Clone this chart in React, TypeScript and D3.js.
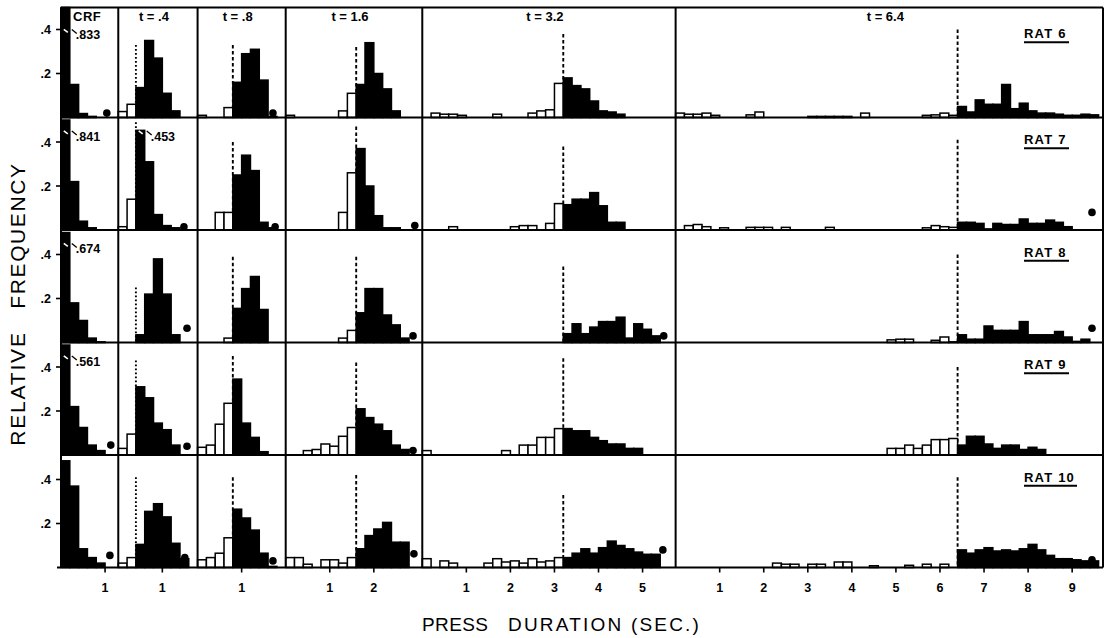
import React from 'react';
import * as d3 from 'd3';

const columnTitles = ['CRF', 't = .4', 't = .8', 't = 1.6', 't = 3.2', 't = 6.4'];
const thresholds = [0, 0.4, 0.8, 1.6, 3.2, 6.4];
const columnSpans = [1.3, 1.8, 2.0, 3.1, 5.75, 9.7];
const tickValues = [[1], [1], [1], [1, 2], [1, 2, 3, 4, 5], [1, 2, 3, 4, 5, 6, 7, 8, 9]];
const ratNames = ['RAT 6', 'RAT 7', 'RAT 8', 'RAT 9', 'RAT 10'];
const yTicks = [0.2, 0.4];
const binWidth = 0.2;

const rat6 = [
  [0.833, 0.15, 0.018, 0.005],
  [0.027, 0.06, 0.136, 0.35, 0.27, 0.11, 0.03],
  [0.01, 0, 0, 0.045, 0.16, 0.29, 0.31, 0.17, 0.005],
  [0.01, 0, 0, 0, 0, 0, 0.03, 0.11, 0.15, 0.34, 0.2, 0.13, 0.03],
  [0, 0.02, 0.015, 0.015, 0.01, 0, 0, 0, 0.015, 0, 0, 0, 0.02, 0.03, 0.035, 0.155, 0.18, 0.145, 0.13, 0.075, 0.03, 0.025, 0.015],
  [0.02, 0.015, 0.015, 0.02, 0.01, 0, 0, 0, 0.012, 0.025, 0, 0, 0, 0, 0, 0.005, 0.005, 0.005, 0.005, 0.005, 0, 0.02, 0, 0, 0, 0, 0, 0, 0.01, 0.012, 0.02, 0.01, 0.05, 0.025, 0.08, 0.06, 0.06, 0.15, 0.04, 0.065, 0.03, 0.02, 0.02, 0.015, 0.01, 0.01, 0.015, 0.012],
];
const rat7 = [
  [0.841, 0.22, 0.04, 0.01],
  [0.015, 0.14, 0.453, 0.31, 0.07, 0.02, 0.01],
  [0, 0, 0.08, 0.08, 0.25, 0.34, 0.27, 0.035, 0.01],
  [0, 0, 0, 0, 0, 0, 0.08, 0.26, 0.37, 0.2, 0.065, 0.01, 0.01],
  [0, 0, 0, 0.015, 0, 0, 0, 0, 0, 0, 0.015, 0.02, 0.02, 0, 0.03, 0.12, 0.115, 0.14, 0.14, 0.17, 0.11, 0.035, 0.035],
  [0, 0.02, 0.025, 0.015, 0, 0.01, 0, 0, 0.012, 0.012, 0.012, 0, 0.012, 0, 0, 0, 0, 0.012, 0, 0, 0, 0, 0, 0, 0, 0, 0, 0, 0.01, 0.02, 0.015, 0.012, 0.035, 0.035, 0.03, 0.005, 0.03, 0.025, 0.025, 0.05, 0.03, 0.03, 0.045, 0.035, 0.015],
];
const rat8 = [
  [0.674, 0.18, 0.1, 0.02, 0.003],
  [0, 0, 0.035, 0.22, 0.38, 0.22, 0.035],
  [0, 0, 0, 0.02, 0.155, 0.245, 0.3, 0.15],
  [0, 0, 0, 0, 0, 0, 0.02, 0.055, 0.135, 0.245, 0.245, 0.125, 0.08, 0.02],
  [0, 0, 0, 0, 0, 0, 0, 0, 0, 0, 0, 0, 0, 0, 0, 0, 0.04, 0.085, 0.04, 0.07, 0.095, 0.095, 0.115, 0.02, 0.085, 0.06, 0.03],
  [0, 0, 0, 0, 0, 0, 0, 0, 0, 0, 0, 0, 0, 0, 0, 0, 0, 0, 0, 0, 0, 0, 0, 0, 0.012, 0.015, 0.015, 0, 0, 0.01, 0.025, 0.003, 0.035, 0.015, 0.015, 0.075, 0.055, 0.055, 0.055, 0.095, 0.035, 0.035, 0.035, 0.05, 0.025, 0.005, 0.015],
];
const rat9 = [
  [0.561, 0.22, 0.125, 0.045, 0.02],
  [0.03, 0.095, 0.31, 0.26, 0.145, 0.115, 0.045],
  [0.035, 0.045, 0.14, 0.235, 0.345, 0.145, 0.08, 0.015],
  [0, 0, 0.02, 0.025, 0.05, 0.04, 0.085, 0.125, 0.21, 0.17, 0.14, 0.11, 0.045, 0.025],
  [0.02, 0, 0, 0, 0, 0, 0, 0, 0, 0.02, 0, 0.045, 0.045, 0.08, 0.08, 0.12, 0.12, 0.11, 0.11, 0.08, 0.065, 0.05, 0.05, 0.03, 0.03],
  [0, 0, 0, 0, 0, 0, 0, 0, 0, 0, 0, 0, 0, 0, 0, 0, 0, 0, 0, 0, 0, 0, 0, 0, 0.03, 0.03, 0.045, 0.03, 0.045, 0.07, 0.07, 0.075, 0.045, 0.085, 0.085, 0.05, 0.03, 0.045, 0.045, 0.025, 0.035, 0.025],
];
const rat10 = [
  [0.485, 0.37, 0.085, 0.045, 0.02],
  [0.02, 0.045, 0.105, 0.255, 0.29, 0.23, 0.11, 0.04],
  [0.035, 0.045, 0.065, 0.135, 0.265, 0.225, 0.17, 0.065, 0.005],
  [0.045, 0.045, 0.015, 0, 0.035, 0.035, 0.02, 0.045, 0.085, 0.145, 0.175, 0.205, 0.115, 0.115],
  [0.04, 0, 0.03, 0.02, 0, 0, 0, 0.02, 0.04, 0.025, 0.03, 0.02, 0.04, 0.025, 0.03, 0.045, 0.045, 0.065, 0.085, 0.065, 0.09, 0.12, 0.1, 0.085, 0.07, 0.06, 0.06],
  [0, 0, 0, 0, 0, 0, 0, 0, 0, 0, 0, 0.02, 0.015, 0.015, 0, 0.015, 0.015, 0, 0.025, 0.025, 0, 0, 0.008, 0, 0, 0, 0.01, 0, 0.015, 0, 0.015, 0, 0.08, 0.065, 0.08, 0.09, 0.075, 0.08, 0.075, 0.085, 0.105, 0.08, 0.055, 0.04, 0.04, 0.035, 0.03, 0.03],
];
const rats = [rat6, rat7, rat8, rat9, rat10];

// beyond-range proportion markers: [seconds, relative frequency]
const dots6 = [[1.04, 0.02], null, [1.71, 0.02], null, null, null];
const dots7 = [null, [1.49, 0.015], [1.76, 0.015], [2.93, 0.02], null, [9.45, 0.08]];
const dots8 = [null, [1.56, 0.065], null, [2.89, 0.03], [5.48, 0.03], [9.45, 0.065]];
const dots9 = [[1.13, 0.045], [1.56, 0.04], null, [2.89, 0.02], null, null];
const dots10 = [[1.11, 0.055], [1.51, 0.045], [1.71, 0.03], [2.91, 0.062], [5.46, 0.08], [9.45, 0.035]];
const dots = [dots6, dots7, dots8, dots9, dots10];

// heights reached by the dashed criterion lines
const dash6 = [null, 0.33, 0.33, 0.32, 0.38, 0.4];
const dash7 = [null, 0.49, 0.4, 0.47, 0.38, 0.41];
const dash8 = [null, 0.25, 0.39, 0.39, 0.345, 0.4];
const dash9 = [null, 0.43, 0.45, 0.42, 0.44, 0.4];
const dash10 = [null, 0.41, 0.41, 0.42, 0.33, 0.41];
const dashTops = [dash6, dash7, dash8, dash9, dash10];

// bars carrying a printed value: [rat, column, bin]
const labelledBars = [[0, 0, 0], [1, 0, 0], [2, 0, 0], [3, 0, 0], [1, 1, 2]];

const LEFT = 61;
const RIGHT = 1103;
const FIRST_BASE = 117.5;
const ROW_STEP = 112.5;
const ROW_H = 110;
const YMAX = 0.5;
const BOLD = "'Liberation Sans', Arial, sans-serif";

export default function App() {
  const totalSpan = d3.sum(columnSpans);
  const k = (RIGHT - LEFT) / totalSpan;
  const starts = columnSpans.map((_, i) => LEFT + d3.sum(columnSpans.slice(0, i)) * k);
  const xScales = columnSpans.map((s, i) => d3.scaleLinear().domain([0, s]).range([starts[i], starts[i] + s * k]));
  const yScales = ratNames.map((_, r) => {
    const b = FIRST_BASE + r * ROW_STEP;
    return d3.scaleLinear().domain([0, YMAX]).range([b, b - ROW_H]);
  });
  const bottom = FIRST_BASE + 4 * ROW_STEP;
  const top = FIRST_BASE - ROW_H;
  const fmt = (v: number) => d3.format('.3f')(v).replace(/^0/, '');

  const panels: React.ReactNode[] = [];
  rats.forEach((rat, r) => {
    const ys = yScales[r];
    rat.forEach((vals, c) => {
      const xs = xScales[c];
      const t = thresholds[c];
      const dt = dashTops[r][c];
      if (dt != null) {
        panels.push(
          <line key={`d${r}-${c}`} x1={xs(t)} x2={xs(t)} y1={ys(dt)} y2={ys(0)} stroke="#000" strokeWidth={1.9}
            strokeDasharray={c === 1 ? '1.8,2.2' : '3.5,2.5'} />
        );
      }
      vals.forEach((v, i) => {
        if (v <= 0) return;
        const x0 = xs(i * binWidth);
        const x1 = xs((i + 1) * binWidth);
        const open = i * binWidth < t - 1e-9;
        const y = ys(Math.min(v, YMAX));
        panels.push(
          <rect key={`b${r}-${c}-${i}`} x={x0} y={y} width={x1 - x0} height={ys(0) - y}
            fill={open ? '#fff' : '#000'} stroke="#000" strokeWidth={1.5} />
        );
      });
      const d = dots[r][c];
      if (d) panels.push(<circle key={`c${r}-${c}`} cx={xs(d[0])} cy={ys(d[1])} r={3.8} fill="#000" />);
    });
  });

  const labels = labelledBars.map(([r, c, i]) => {
    const xs = xScales[c];
    const ys = yScales[r];
    const bx = xs((i + 1) * binWidth);
    const ty = r === 0 ? ys(0.355) : ys(0.405);
    return (
      <g key={`l${r}-${c}`}>
        <line x1={bx - 6} y1={ty - 10} x2={bx - 2} y2={ty - 7} stroke="#fff" strokeWidth={1.6} />
        <line x1={bx + 2} y1={ty - 10} x2={bx + 7} y2={ty - 6} stroke="#000" strokeWidth={1.3} />
        <text x={bx + 6} y={ty} fontFamily={BOLD} fontWeight="bold" fontSize={12.5}>{fmt(rats[r][c][i])}</text>
      </g>
    );
  });

  return (
    <svg width={1110} height={638} style={{ position: 'absolute', left: 0, top: 0, background: '#fff' }}>
      <rect x={0} y={0} width={1110} height={638} fill="#fff" />
      {panels}
      {/* frame */}
      <g stroke="#000" strokeWidth={2}>
        <line x1={LEFT} x2={RIGHT} y1={top} y2={top} />
        {yScales.map((ys, r) => (
          <line key={`h${r}`} x1={r === 4 ? LEFT - 4 : LEFT} x2={RIGHT} y1={ys(0)} y2={ys(0)} />
        ))}
        {[...starts, RIGHT].map((x, i) => (
          <line key={`v${i}`} x1={x} x2={x} y1={top} y2={bottom} />
        ))}
      </g>
      {labels}
      {/* y ticks */}
      {yScales.map((ys, r) => (
        <g key={`yt${r}`}>
          {yTicks.map((v) => (
            <g key={v}>
              <line x1={LEFT - 5} x2={LEFT} y1={ys(v)} y2={ys(v)} stroke="#000" strokeWidth={1.6} />
              <text x={LEFT - 10} y={ys(v) + 4.5} textAnchor="end" fontFamily={BOLD} fontWeight="bold" fontSize={12.5}>
                {d3.format('.1f')(v).replace(/^0/, '')}
              </text>
            </g>
          ))}
        </g>
      ))}
      {/* x ticks */}
      {xScales.map((xs, c) => (
        <g key={`xt${c}`}>
          {tickValues[c].map((v) => (
            <g key={v}>
              <line x1={xs(v)} x2={xs(v)} y1={bottom} y2={bottom + 5} stroke="#000" strokeWidth={1.6} />
              <text x={xs(v)} y={bottom + 24} textAnchor="middle" fontFamily={BOLD} fontWeight="bold" fontSize={12.5}>{v}</text>
            </g>
          ))}
        </g>
      ))}
      {/* column titles */}
      {columnTitles.map((ttl, c) => {
        const xs = xScales[c];
        const mid = (xs.range()[0] + xs.range()[1]) / 2;
        return c === 0 ? (
          <text key={ttl} x={xs.range()[0] + 12} y={21} fontFamily={BOLD} fontWeight="bold" fontSize={13} letterSpacing={0.5}>{ttl}</text>
        ) : (
          <text key={ttl} x={mid - 4} y={21} textAnchor="middle" fontFamily={BOLD} fontWeight="bold" fontSize={13}>{ttl}</text>
        );
      })}
      {/* rat labels */}
      {ratNames.map((name, r) => {
        const ys = yScales[r];
        const y = ys(r === 0 ? 0.36 : 0.39);
        const w = name.length > 5 ? 53 : 45;
        return (
          <g key={name}>
            <text x={1024} y={y} fontFamily={BOLD} fontWeight="bold" fontSize={13} letterSpacing={1.2}>{name}</text>
            <line x1={1024} x2={1024 + w} y1={y + 4} y2={y + 4} stroke="#000" strokeWidth={2} />
          </g>
        );
      })}
      {/* axis titles */}
      <g transform="translate(25,235.5) rotate(-90)">
        <text textAnchor="middle" fontFamily={BOLD} fontSize={21} letterSpacing={1.6}>FREQUENCY</text>
      </g>
      <g transform="translate(25,388.5) rotate(-90)">
        <text textAnchor="middle" fontFamily={BOLD} fontSize={21} letterSpacing={1.8}>RELATIVE</text>
      </g>
      <text x={422} y={631} fontFamily={BOLD} fontSize={19} letterSpacing={0.4}>PRESS</text>
      <text x={508} y={631} fontFamily={BOLD} fontSize={19} letterSpacing={2.2}>DURATION (SEC.)</text>
    </svg>
  );
}
